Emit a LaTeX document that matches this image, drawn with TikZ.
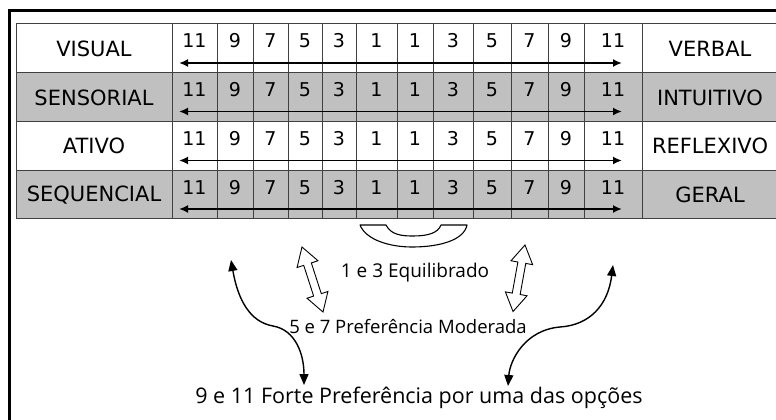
\documentclass[tikz,border=0pt]{standalone}
\usepackage{fontspec}
\setmainfont{DejaVu Sans}
\newfontfamily\capfont{Open Sans}
\usetikzlibrary{arrows.meta}
\definecolor{rowgray}{RGB}{192,192,192}
\definecolor{gridc}{RGB}{64,64,64}
\begin{document}
\begin{tikzpicture}[x=1pt,y=-1pt,
  lbl/.style={font=\fontsize{21}{21}\selectfont, inner sep=0, text=black},
  num/.style={font=\fontsize{19}{19}\selectfont, inner sep=0, anchor=base},
  grid/.style={draw=gridc, line width=1pt},
  scalearrow/.style={line width=1.8pt, {Latex[length=9pt,width=8pt]}-{Latex[length=9pt,width=8pt]}},
  hollow/.style={draw=black, fill=white, line width=0.9pt, line join=miter},
  curvearrow/.style={line width=1.4pt, {Triangle[length=11pt,width=9pt]}-{Triangle[length=11pt,width=9pt]}},
  caption/.style={inner sep=0, anchor=base}]
\useasboundingbox (0,0) rectangle (776,420);
\clip (0,0) rectangle (776,420);
% outer frame (cropped)
\draw[line width=3pt] (9.5,440) -- (9.5,10.5) -- (800,10.5);
% rows
\foreach \t/\b/\c in {24/72.5/white,72.5/121.5/rowgray,121.5/170/white,170/218.5/rowgray}
  \fill[\c] (16,\t) rectangle (800,\b);
\foreach \y in {24,72.5,121.5,170,218.5}
  \draw[grid] (16,\y) -- (800,\y);
\foreach \x in {16,172,217,253,288,322,356,397,433,473,511,548,584,642}
  \draw[grid] (\x,24) -- (\x,218.5);
% numbers and scale arrows
\foreach \t [count=\r] in {24,72.5,121.5,170} {
  \foreach \x/\v [count=\c] in {194.5/11,235/9,270.5/7,305/5,339/3,376.5/1,415/1,453/3,492/5,529.5/7,566/9,613/11}
    \node[num] (n\r-\c) at (\x,\t+24) {\v};
  \coordinate (al\r) at (179,\t+39);
  \coordinate (ar\r) at (622,\t+39);
  \draw[scalearrow] (al\r) -- (ar\r);
}
% labels
\node[lbl] (visual) at (94,48.5) {VISUAL};
\node[lbl] (sensorial) at (94,97.5) {SENSORIAL};
\node[lbl] (ativo) at (94,146) {ATIVO};
\node[lbl] (sequencial) at (94,195) {SEQUENCIAL};
\node[lbl] (verbal) at (710,48.5) {VERBAL};
\node[lbl] (intuitivo) at (710,97.5) {INTUITIVO};
\node[lbl] (reflexivo) at (710,146) {REFLEXIVO};
\node[lbl] (geral) at (710,195) {GERAL};
% bracket under the 1 and 3 columns
\draw[line width=1.1pt, line join=round]
  (360,225) -- (386,225) .. controls (391,235) and (402,236) .. (413,236)
  .. controls (428,236) and (438,233) .. (441,225) -- (467,225)
  .. controls (464,240) and (440,247) .. (412,247)
  .. controls (390,247) and (366,240) .. (360,225) -- cycle;
% hollow double arrows
\begin{scope}[shift={(302,247)}, rotate=-72.1]
  \draw[hollow] (0,0) -- (18,11) -- (18,4) -- (50.3,4) -- (50.3,11) -- (68.3,0)
    -- (50.3,-11) -- (50.3,-4) -- (18,-4) -- (18,-11) -- cycle;
\end{scope}
\begin{scope}[shift={(525,245)}, rotate=-100.2]
  \draw[hollow] (0,0) -- (18,11) -- (18,4) -- (49.6,4) -- (49.6,11) -- (67.6,0)
    -- (49.6,-11) -- (49.6,-4) -- (18,-4) -- (18,-11) -- cycle;
\end{scope}
% captions
\node[caption, font=\capfont\fontsize{19}{19}\selectfont] (eq) at (415,277) {1 e 3 Equilibrado};
\node[caption, font=\capfont\fontsize{18.5}{18.5}\selectfont] (mod) at (408,333) {5 e 7 Preferência Moderada};
\node[caption, font=\capfont\fontsize{21.5}{21.5}\selectfont] (forte) at (419,403) {9 e 11 Forte Preferência por uma das opções};
% curved arrows
\coordinate (cl1) at (231,260);
\coordinate (cl2) at (304,385);
\draw[curvearrow] (cl1) .. controls (238,300) and (250,322) .. (273,326)
  .. controls (296,330) and (304,355) .. (cl2);
\coordinate (cr1) at (613,265);
\coordinate (cr2) at (508,386);
\draw[curvearrow] (cr1) .. controls (608,305) and (590,325) .. (560,327)
  .. controls (525,330) and (510,360) .. (cr2);
\end{tikzpicture}
\end{document}
